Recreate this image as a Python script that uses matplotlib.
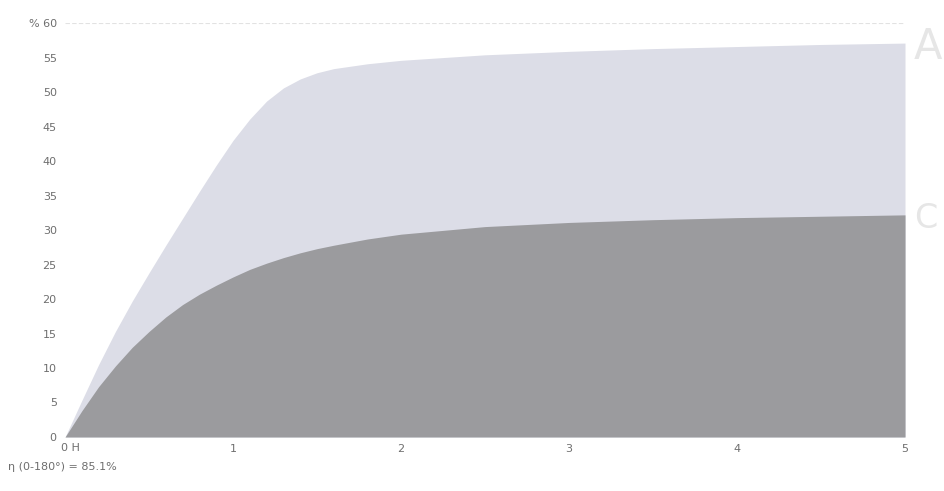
import matplotlib
matplotlib.use("Agg")
import matplotlib.pyplot as plt

# Data
x_vals = [0, 0.1, 0.2, 0.3, 0.4, 0.5, 0.6, 0.7, 0.8, 0.9, 1.0, 1.1, 1.2, 1.3, 1.4,
          1.5, 1.6, 1.8, 2.0, 2.5, 3.0, 3.5, 4.0, 4.5, 5.0]
upper_vals = [0, 5.3, 10.5, 15.3, 19.7, 23.8, 27.8, 31.7, 35.6, 39.4, 43.0, 46.1,
              48.7, 50.6, 51.9, 52.8, 53.4, 54.1, 54.6, 55.4, 55.9, 56.3, 56.6, 56.9, 57.1]
lower_vals = [0, 3.8, 7.3, 10.3, 13.0, 15.3, 17.4, 19.2, 20.7, 22.0, 23.2, 24.3,
              25.2, 26.0, 26.7, 27.3, 27.8, 28.7, 29.4, 30.5, 31.1, 31.5, 31.8, 32.0, 32.2]
y_ticks = [0, 5, 10, 15, 20, 25, 30, 35, 40, 45, 50, 55, 60]
y_tick_labels = ["0", "5", "10", "15", "20", "25", "30", "35", "40", "45", "50", "55", "% 60"]
x_ticks = [1, 2, 3, 4, 5]
x_tick_labels = ["1", "2", "3", "4", "5"]
footer_text = "η (0-180°) = 85.1%"

text_color = "#6e6e6e"
light_color = "#dcdde7"
dark_color = "#9b9b9e"

fig = plt.figure(figsize=(9.44, 4.91), dpi=100)
ax = fig.add_axes([0.0689, 0.110, 0.8898, 0.843])

ax.fill_between(x_vals, 0, upper_vals, color=light_color, linewidth=0)
ax.fill_between(x_vals, 0, lower_vals, color=dark_color, linewidth=0)

ax.set_xlim(0, 5)
ax.set_ylim(0, 60)
for s in ax.spines.values():
    s.set_visible(False)
ax.axhline(60, color="#e2e2e2", linewidth=0.8, linestyle=(0, (4, 2)))

ax.set_yticks(y_ticks)
ax.set_yticklabels(y_tick_labels)
ax.set_xticks(x_ticks)
ax.set_xticklabels(x_tick_labels)
ax.tick_params(axis="both", length=0, labelsize=8, colors=text_color)
ax.tick_params(axis="y", pad=6)
ax.tick_params(axis="x", pad=5)

ax.annotate("0 H", xy=(0, 0), xycoords="data", xytext=(-3, -4),
            textcoords="offset points", ha="left", va="top",
            fontsize=8, color=text_color)

fig.text(0.008, 0.048, footer_text, fontsize=8, color=text_color, ha="left", va="center")

# partially visible luminaire symbols at the right edge
fig.text(0.968, 0.905, "A", fontsize=30, color="#e6e6e6", ha="left", va="center")
fig.text(0.968, 0.555, "C", fontsize=24, color="#e6e6e6", ha="left", va="center")

fig.savefig("out.png", dpi=100)
